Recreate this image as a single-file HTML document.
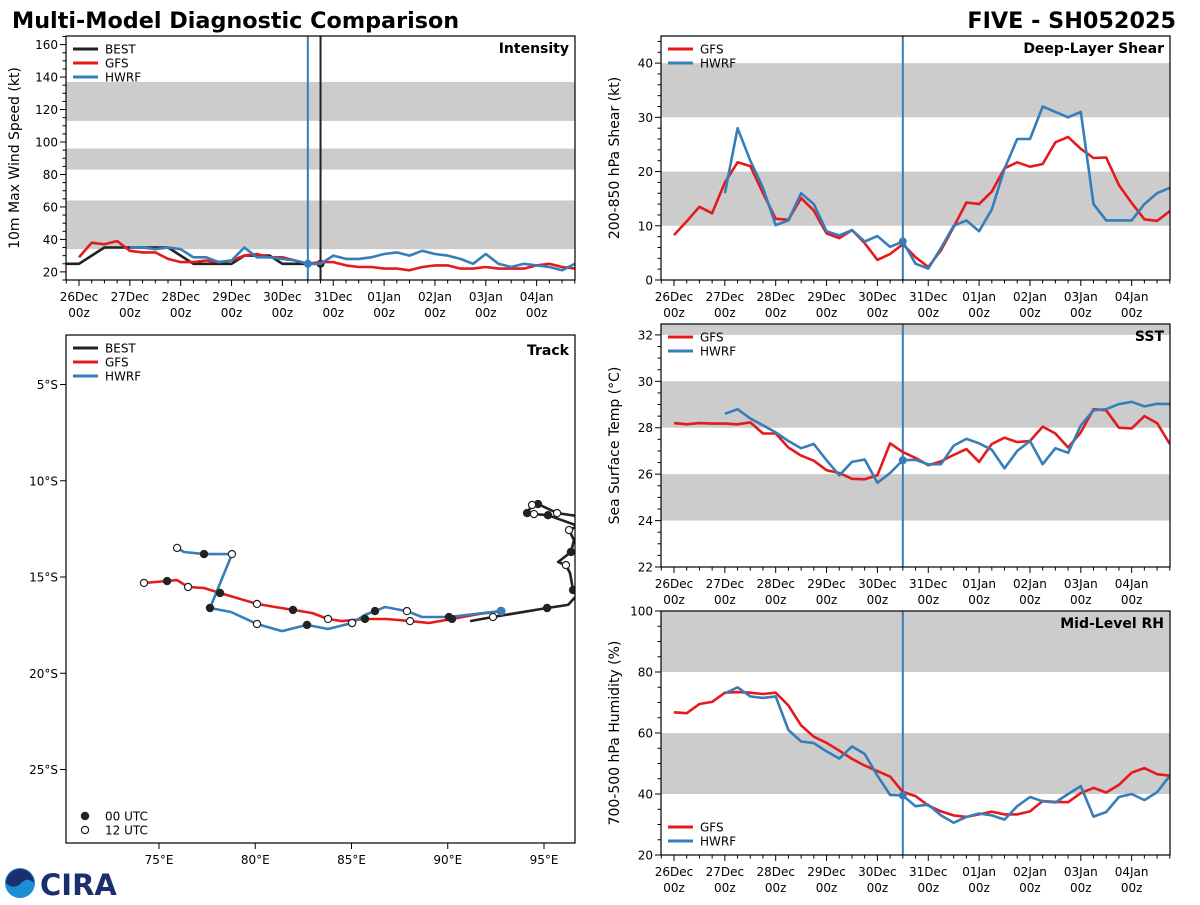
<!DOCTYPE html>
<html><head><meta charset="utf-8"><style>
html,body{margin:0;padding:0;background:#fff;}
svg text{font-family:"DejaVu Sans","Liberation Sans",sans-serif;}
</style></head><body>
<svg id="fig" width="1200" height="900" viewBox="0 0 1200 900" xmlns="http://www.w3.org/2000/svg">
<text x="12" y="28" font-size="22.3" font-weight="bold" fill="#000">Multi-Model Diagnostic Comparison</text>
<text x="1176" y="28" font-size="22.3" font-weight="bold" fill="#000" text-anchor="end">FIVE - SH052025</text>
<g transform="translate(0,866)">
<circle cx="20" cy="17" r="15" fill="#1a8fd6"/>
<path d="M6,17 A14,14 0 0 1 34,17 Q27,10 20,18 Q13,24 6,17Z" fill="#1b2f6e"/>
<text x="40" y="29" font-size="29" font-weight="bold" fill="#1b2f6e" font-family="Liberation Serif, serif">CIRA</text>
</g>
</svg>
<script>
// ---------- data ----------
const days = ["26Dec","27Dec","28Dec","29Dec","30Dec","31Dec","01Jan","02Jan","03Jan","04Jan"];
const intBestStart = -1;
const intBest = [25,25,30,35,35,35,35,35,35,30,25,25,25,25,30,30,30,25,25,25,25];
const intGfsStart = 0;
const intGfs = [29,38,37,39,33,32,32,28,26,26,27,26,27,30,31,29,29,27,25,26,26,24,23,23,22,22,21,23,24,24,22,22,23,22,22,22,24,25,23,22];
const intHwrfStart = 4;
const intHwrf = [35,35,34,35,34,29,29,26,27,35,29,29,28,27,25,25,30,28,28,29,31,32,30,33,31,30,28,25,31,25,23,25,24,23,21,25];
const shrGfsStart = 0;
const shrGfs = [8.3,10.8,13.5,12.3,18,21.7,21,16,11.3,11.1,15.1,12.8,8.6,7.7,9.2,6.8,3.7,4.8,6.6,4.2,2.4,5.5,9.8,14.3,14,16.3,20.6,21.7,20.9,21.4,25.4,26.4,24.2,22.5,22.6,17.5,14.2,11.2,10.9,12.7];
const shrHwrfStart = 4;
const shrHwrf = [16,28,22,17,10.1,11,16,14,9,8.2,9.2,7.1,8.1,6.1,7.1,3,2.1,5.9,10,11,9,13,20.5,26,26,32,31,30,31,14,11,11,11,14,16,17];
const sstGfsStart = 0;
const sstGfs = [28.2,28.15,28.2,28.18,28.18,28.15,28.23,27.75,27.75,27.15,26.8,26.58,26.17,26.05,25.8,25.78,25.95,27.33,26.95,26.7,26.38,26.55,26.83,27.08,26.53,27.3,27.57,27.38,27.43,28.05,27.75,27.15,27.8,28.8,28.75,28.0,27.97,28.5,28.2,27.3];
const sstHwrfStart = 4;
const sstHwrf = [28.6,28.8,28.4,28.1,27.8,27.43,27.12,27.3,26.6,25.95,26.53,26.63,25.63,26.05,26.6,26.62,26.42,26.43,27.23,27.52,27.33,27.05,26.25,27.0,27.43,26.43,27.12,26.92,28.1,28.75,28.8,29.02,29.12,28.92,29.03,29.02];
const rhGfsStart = 0;
const rhGfs = [66.8,66.5,69.5,70.2,73.2,73.4,73.2,72.8,73.2,69,62.5,58.8,56.8,54.2,51.5,49.3,47.5,45.7,40.7,39.3,36.2,34.3,33,32.5,33.3,34.2,33.3,33.3,34.3,37.7,37.4,37.3,40.3,42,40.5,43,47,48.5,46.5,46,46.2];
const rhHwrfStart = 4;
const rhHwrf = [73,75,72,71.5,72,61,57.2,56.7,54,51.6,55.6,53.1,46,39.7,39.5,36,36.5,33,30.6,32.5,33.6,33,31.6,36,39,37.6,37.2,40,42.6,32.6,34.1,39,40,38,40.6,46];
const initIndex = 18;   // 30Dec 12z
const bestEndIndex = 19; // 30Dec 18z
// track (lon E, lat; mark: 1 = 00 UTC, 0 = 12 UTC, -1 none)
const bestLon = [96.77,95.68,94.69,94.38,94.12,94.48,95.21,96.77,96.30,96.56,96.40,95.73,96.14,96.35,96.51,96.77,96.25,95.16,92.35,91.16];
const bestLat = [-11.84,-11.68,-11.21,-11.26,-11.68,-11.73,-11.79,-12.35,-12.56,-13.08,-13.70,-14.22,-14.38,-14.79,-15.68,-15.88,-16.45,-16.61,-17.08,-17.29];
const bestMark = [-1,0,1,0,1,0,1,-1,0,-1,1,-1,0,-1,1,-1,-1,1,0,-1];
const gfsLon = [92.77,91.62,90.22,89.03,88.04,86.84,85.70,84.51,83.78,82.95,81.96,81.03,80.09,78.17,77.34,76.51,75.94,75.42,74.22];
const gfsLat = [-16.77,-16.92,-17.18,-17.39,-17.29,-17.18,-17.18,-17.29,-17.18,-16.87,-16.71,-16.56,-16.40,-15.83,-15.57,-15.52,-15.16,-15.21,-15.31];
const gfsMark = [-1,-1,1,-1,0,-1,1,-1,0,-1,1,-1,0,1,-1,0,-1,1,0];
const hwrfLon = [92.77,90.06,88.66,87.88,86.74,86.22,85.70,85.03,83.78,82.69,81.39,80.09,78.74,77.65,78.79,77.34,76.30,75.94];
const hwrfLat = [-16.77,-17.08,-17.08,-16.77,-16.56,-16.77,-16.97,-17.39,-17.70,-17.49,-17.81,-17.44,-16.82,-16.61,-13.81,-13.81,-13.70,-13.49];
const hwrfMark = [-1,1,-1,0,-1,1,-1,0,-1,1,-1,0,-1,1,0,1,-1,0];

// ---------- helpers ----------
const NS = 'http://www.w3.org/2000/svg';
const svg = document.getElementById('fig');
function mk(tag, parent){ const e=document.createElementNS(NS,tag); (parent||svg).appendChild(e); return e; }
function at(e,o){ for(const k in o) e.setAttribute(k,o[k]); return e; }
const RED='#e41a1c', BLUE='#377eb8', BLK='#222222', GRAY='#cccccc';
let clipN=0;

function timePanel(p){
  const g = mk('g');
  
  
  const dayW=50.85, step=dayW/4;
  const xs = i => p.x0i + i*step;
  const ys = v => p.y1 - (v - p.vmin)/(p.vmax - p.vmin)*(p.y1 - p.y0);
  const cid='clip'+(clipN++);
  const cp = mk('clipPath', g); cp.setAttribute('id',cid);
  at(mk('rect',cp),{x:p.x0,y:p.y0,width:p.x1-p.x0,height:p.y1-p.y0});
  const inner = mk('g', g); inner.setAttribute('clip-path','url(#'+cid+')');
  p.bands.forEach(b=>{
    const r=mk('rect',inner);
    at(r,{x:p.x0,y:ys(b[1]),width:p.x1-p.x0,height:ys(b[0])-ys(b[1]),fill:GRAY});
    
    
  });
  const vl=mk('line',inner);
  at(vl,{x1:xs(initIndex),x2:xs(initIndex),y1:p.y0,y2:p.y1,stroke:BLUE,'stroke-width':2});
  
  
  if(p.bestLine){
    const bl=mk('line',inner);
    at(bl,{x1:xs(bestEndIndex),x2:xs(bestEndIndex),y1:p.y0,y2:p.y1,stroke:BLK,'stroke-width':2});
    
    
  }
  p.series.forEach(s=>{
    const pts=s.vals.map((v,k)=>xs(s.start+k).toFixed(1)+','+ys(v).toFixed(1)).join(' ');
    const pl=mk('polyline',inner);
    at(pl,{points:pts,fill:'none',stroke:s.color,'stroke-width':2.6,'stroke-linejoin':'round'});
    
    
    if(s.dotIndex!==undefined){
      const k=s.dotIndex-s.start;
      const c=mk('circle',inner);
      at(c,{cx:xs(s.dotIndex),cy:ys(s.vals[k]),r:4,fill:s.color});
      
      
    }
  });
  at(mk('rect',g),{x:p.x0,y:p.y0,width:p.x1-p.x0,height:p.y1-p.y0,fill:'none',stroke:'#000','stroke-width':1.2});
  for(let i=-4;i<=44;i++){
    const x=xs(i); if(x<p.x0-0.5||x>p.x1+0.5) continue;
    const major = i%4===0;
    at(mk('line',g),{x1:x,x2:x,y1:p.y1,y2:p.y1+(major?6:3.5),stroke:'#000','stroke-width':1});
    if(major){
      const t=mk('text',g);
      at(t,{x:x,y:p.y1+21,'font-size':12,'text-anchor':'middle'});
      t.textContent=days[i/4];
      
      
      const t2=mk('text',g);
      at(t2,{x:x,y:p.y1+37,'font-size':12,'text-anchor':'middle'});
      t2.textContent='00z';
      
      
    }
  }
  for(let v=p.vmin; v<=p.vmax+1e-6; v+=p.minor){
    const vv=Math.round(v*1000)/1000;
    const y=ys(vv);
    const major=Math.abs(vv/p.major-Math.round(vv/p.major))<1e-6;
    at(mk('line',g),{x1:p.x0,x2:p.x0-(major?6:3.5),y1:y,y2:y,stroke:'#000','stroke-width':1});
    if(major){
      const t=mk('text',g);
      at(t,{x:p.x0-8,y:y+4.5,'font-size':12,'text-anchor':'end'});
      t.textContent=String(vv);
      
      
    }
  }
  const yt=mk('text',g);
  const cy=(p.y0+p.y1)/2;
  at(yt,{x:p.ylx,y:cy,'font-size':14,'text-anchor':'middle',transform:'rotate(-90 '+p.ylx+' '+cy+')'});
  yt.textContent=p.ylabel;
  
  
  const pt=mk('text',g);
  at(pt,{x:p.x1-6,y:p.titleY,'font-size':14,'font-weight':'bold','text-anchor':'end'});
  pt.textContent=p.title;
  
  
  legend(g, p.x0+7, p.legY, p.legend);
}
function legend(g,x,y,items){
  items.forEach((it,k)=>{
    const yy=y+k*14;
    const l=mk('line',g);
    at(l,{x1:x,x2:x+25,y1:yy,y2:yy,stroke:it[1],'stroke-width':3});
    
    
    const t=mk('text',g);
    at(t,{x:x+32,y:yy+4.5,'font-size':12});
    t.textContent=it[0];
    
    
  });
}

timePanel({name:'intensity-panel',x0:66,x1:575,y0:36,y1:280,x0i:79,vmin:15,vmax:165.3,major:20,minor:5,
  bands:[[34,64],[83,96],[113,137]],ylabel:'10m Max Wind Speed (kt)',ylx:19,title:'Intensity',titleY:53,legY:49,bestLine:true,
  legend:[['BEST',BLK],['GFS',RED],['HWRF',BLUE]],
  series:[{name:'best-line',start:intBestStart,vals:intBest,color:BLK,dotIndex:bestEndIndex},
          {name:'gfs-line',start:intGfsStart,vals:intGfs,color:RED},
          {name:'hwrf-line',start:intHwrfStart,vals:intHwrf,color:BLUE,dotIndex:initIndex}]});
timePanel({name:'shear-panel',x0:661,x1:1170,y0:36,y1:280,x0i:674,vmin:0,vmax:45,major:10,minor:2,
  bands:[[10,20],[30,40]],ylabel:'200-850 hPa Shear (kt)',ylx:619,title:'Deep-Layer Shear',titleY:53,legY:49,
  legend:[['GFS',RED],['HWRF',BLUE]],
  series:[{name:'gfs-line',start:shrGfsStart,vals:shrGfs,color:RED},
          {name:'hwrf-line',start:shrHwrfStart,vals:shrHwrf,color:BLUE,dotIndex:initIndex}]});
timePanel({name:'sst-panel',x0:661,x1:1170,y0:324,y1:567,x0i:674,vmin:22,vmax:32.47,major:2,minor:0.5,
  bands:[[24,26],[28,30],[32,34]],ylabel:'Sea Surface Temp (°C)',ylx:619,title:'SST',titleY:341,legY:337,
  legend:[['GFS',RED],['HWRF',BLUE]],
  series:[{name:'gfs-line',start:sstGfsStart,vals:sstGfs,color:RED},
          {name:'hwrf-line',start:sstHwrfStart,vals:sstHwrf,color:BLUE,dotIndex:initIndex}]});
timePanel({name:'rh-panel',x0:661,x1:1170,y0:611,y1:855,x0i:674,vmin:20,vmax:100,major:20,minor:5,
  bands:[[40,60],[80,100]],ylabel:'700-500 hPa Humidity (%)',ylx:619,title:'Mid-Level RH',titleY:628,legY:827,
  legend:[['GFS',RED],['HWRF',BLUE]],
  series:[{name:'gfs-line',start:rhGfsStart,vals:rhGfs,color:RED},
          {name:'hwrf-line',start:rhHwrfStart,vals:rhHwrf,color:BLUE,dotIndex:initIndex}]});

(function(){
  const X0=66,X1=575,Y0=335,Y1=843;
  const g=mk('g');
  
  
  const lx = lon => 159 + (lon-75)*19.25;
  const ly = lat => 577 + (-15-lat)*19.25;
  const cp=mk('clipPath',g); cp.setAttribute('id','trkclip');
  at(mk('rect',cp),{x:X0,y:Y0,width:X1-X0,height:Y1-Y0});
  const inner=mk('g',g); inner.setAttribute('clip-path','url(#trkclip)');
  function track(name,lon,lat,mark,color){
    const pts=lon.map((v,k)=>lx(v).toFixed(1)+','+ly(lat[k]).toFixed(1)).join(' ');
    const pl=mk('polyline',inner);
    at(pl,{points:pts,fill:'none',stroke:color,'stroke-width':2.6,'stroke-linejoin':'round'});
    
    
    return ()=>{
      mark.forEach((m,k)=>{
        if(m<0) return;
        const c=mk('circle',inner);
        at(c,{cx:lx(lon[k]),cy:ly(lat[k]),r:3.6,fill:m===1?BLK:'#fff',stroke:BLK,'stroke-width':1.2});
        
        
      });
    };
  }
  const m1=track('best-track',bestLon,bestLat,bestMark,BLK);
  const m2=track('gfs-track',gfsLon,gfsLat,gfsMark,RED);
  const m3=track('hwrf-track',hwrfLon,hwrfLat,hwrfMark,BLUE);
  m1();m2();m3();
  const sd=mk('circle',inner);
  at(sd,{cx:lx(hwrfLon[0]),cy:ly(hwrfLat[0]),r:4.5,fill:BLUE});
  
  
  at(mk('rect',g),{x:X0,y:Y0,width:X1-X0,height:Y1-Y0,fill:'none',stroke:'#000','stroke-width':1.2});
  [75,80,85,90,95].forEach(lon=>{
    const x=lx(lon);
    at(mk('line',g),{x1:x,x2:x,y1:Y1,y2:Y1+6,stroke:'#000'});
    const t=mk('text',g);
    at(t,{x:x,y:Y1+21,'font-size':12,'text-anchor':'middle'});
    t.textContent=lon+'°E';
    
    
  });
  [5,10,15,20,25].forEach(la=>{
    const y=ly(-la);
    at(mk('line',g),{x1:X0,x2:X0-6,y1:y,y2:y,stroke:'#000'});
    const t=mk('text',g);
    at(t,{x:X0-8,y:y+4.5,'font-size':12,'text-anchor':'end'});
    t.textContent=la+'°S';
    
    
  });
  const pt=mk('text',g);
  at(pt,{x:X1-6,y:355,'font-size':14,'font-weight':'bold','text-anchor':'end'});
  pt.textContent='Track';
  
  
  legend(g,X0+7,348,[['BEST',BLK],['GFS',RED],['HWRF',BLUE]]);
  [['00 UTC',1],['12 UTC',0]].forEach((it,k)=>{
    const y=816+k*14;
    const c=mk('circle',g);
    at(c,{cx:85,cy:y,r:3.6,fill:it[1]?BLK:'#fff',stroke:BLK,'stroke-width':1.2});
    
    
    const t=mk('text',g);
    at(t,{x:105,y:y+4.5,'font-size':12});
    t.textContent=it[0];
    
    
  });
})();
</script>
</body></html>
